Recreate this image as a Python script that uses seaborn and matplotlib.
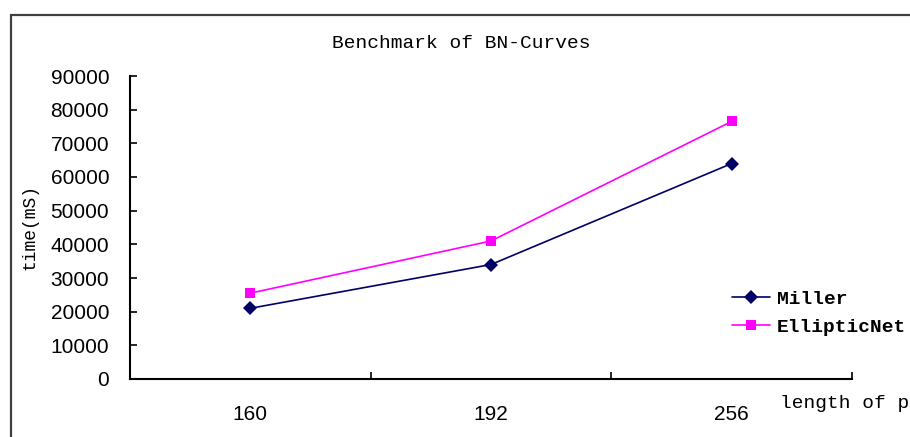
import matplotlib
matplotlib.use("Agg")
import matplotlib.pyplot as plt
import seaborn as sns
import pandas as pd
from matplotlib.patches import Rectangle
from matplotlib.ticker import FixedLocator

categories = ["160", "192", "256"]
miller = [21000, 34000, 64000]
elliptic = [25500, 41000, 76500]
series_names = ["Miller", "EllipticNet"]
yticks = [0, 10000, 20000, 30000, 40000, 50000, 60000, 70000, 80000, 90000]

df = pd.DataFrame({
    "length": categories * 2,
    "time": miller + elliptic,
    "series": [series_names[0]] * 3 + [series_names[1]] * 3,
})

sns.set_style("white")
plt.rcParams["font.family"] = ["Liberation Sans", "DejaVu Sans"]
plt.rcParams["text.color"] = "black"
plt.rcParams["xtick.color"] = "black"
plt.rcParams["ytick.color"] = "black"

W, H = 910, 437
fig = plt.figure(figsize=(W / 100, H / 100), dpi=100)
ax = fig.add_axes([130 / W, 1 - 379 / H, (852 - 130) / W, (379 - 76) / H])

sns.lineplot(data=df, x="length", y="time", hue="series", style="series",
             palette={"Miller": "#000066", "EllipticNet": "#FF00FF"},
             markers={"Miller": "D", "EllipticNet": "s"}, dashes=False,
             markersize=7, markeredgewidth=0, linewidth=1.2, ax=ax,
             sort=False)

ax.set_xlim(-0.5, 2.5)
ax.set_ylim(0, 90000)
ax.set_yticks(yticks)
ax.set_yticklabels([str(v) for v in yticks], fontsize=15, color="black")
ax.set_xticks([0, 1, 2])
ax.set_xticklabels(categories, fontsize=15, color="black")
ax.xaxis.set_minor_locator(FixedLocator([-0.5, 0.5, 1.5, 2.5]))
ax.tick_params(axis="x", which="major", length=0, pad=19)
ax.tick_params(axis="x", which="minor", direction="in", length=5, width=1.2, color="black", bottom=True)
ax.tick_params(axis="y", which="major", direction="in", length=5, width=1.2, color="black", left=True, pad=15)
for s in ["top", "right"]:
    ax.spines[s].set_visible(False)
for s in ["left", "bottom"]:
    ax.spines[s].set_color("black")
    ax.spines[s].set_linewidth(1.5)
ax.set_xlabel("")
ax.set_ylabel("")

leg = ax.legend(loc="center left", bbox_to_anchor=(732 / W, 1 - 313 / H),
                bbox_transform=fig.transFigure, frameon=False, borderpad=0,
                borderaxespad=0, handlelength=1.95, handletextpad=0.35,
                labelspacing=0.55, prop={"family": "Liberation Mono", "size": 14, "weight": "bold"})
for t in leg.get_texts():
    t.set_color("black")

fig.text(461 / W, 1 - 43 / H, "Benchmark of BN-Curves", ha="center", va="center",
         family="Liberation Mono", fontsize=14, color="black")
fig.text(30 / W, 1 - 227 / H, "time(mS)", ha="center", va="center", rotation=90,
         family="Liberation Mono", fontsize=13, color="black")
fig.text(780 / W, 1 - 403 / H, "length of p", ha="left", va="center",
         family="Liberation Mono", fontsize=14, color="black")

fig.patches.append(Rectangle((11 / W, -0.1), 1.2, 1 - 15 / H + 0.1, transform=fig.transFigure,
                             fill=False, edgecolor="#404040", linewidth=1.6))

fig.savefig("out.png", dpi=100)
